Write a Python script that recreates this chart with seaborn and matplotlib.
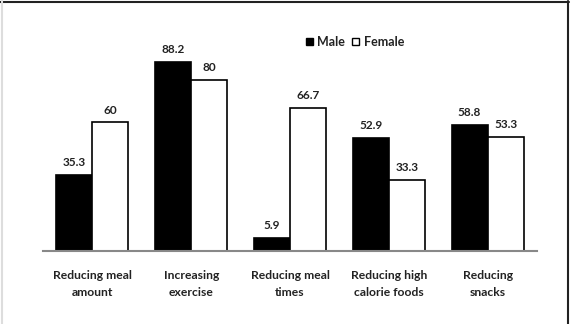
import matplotlib
matplotlib.use("Agg")
import matplotlib.pyplot as plt
import seaborn as sns
import pandas as pd
from matplotlib.patches import Patch
from matplotlib.lines import Line2D

categories = ["Reducing meal\namount", "Increasing\nexercise", "Reducing meal\ntimes",
              "Reducing high\ncalorie foods", "Reducing\nsnacks"]
male = [35.3, 88.2, 5.9, 52.9, 58.8]
female = [60, 80, 66.7, 33.3, 53.3]
male_labels = ["35.3", "88.2", "5.9", "52.9", "58.8"]
female_labels = ["60", "80", "66.7", "33.3", "53.3"]

df = pd.DataFrame({
    "category": categories * 2,
    "value": male + female,
    "sex": ["Male"] * 5 + ["Female"] * 5,
})

sns.set_theme(style="white")
plt.rcParams["font.family"] = ["Lato", "DejaVu Sans"]

fig = plt.figure(figsize=(5.75, 3.24), dpi=100)
ax = fig.add_axes([0.0748, 0.2262, 0.8592, 0.6598])

sns.barplot(data=df, x="category", y="value", hue="sex", order=categories,
            hue_order=["Male", "Female"], palette={"Male": "black", "Female": "white"},
            width=0.73, gap=0, edgecolor="black", linewidth=1.2, ax=ax, legend=False,
            errorbar=None)

for cont, labs in zip(ax.containers, [male_labels, female_labels]):
    ax.bar_label(cont, labels=labs, padding=5, fontsize=8.5, fontweight="bold", color="#222222")

ax.set_xlim(-0.5, 4.5)
ax.set_ylim(0, 100)
ax.set_xlabel("")
ax.set_ylabel("")
ax.set_yticks([])
for s in ["top", "right", "left"]:
    ax.spines[s].set_visible(False)
ax.spines["bottom"].set_color("#888888")
ax.spines["bottom"].set_linewidth(1.5)
ax.tick_params(axis="x", length=0, pad=14)
for t in ax.get_xticklabels():
    t.set_fontsize(8.7)
    t.set_fontweight("bold")
    t.set_color("#222222")
    t.set_linespacing(1.6)

handles = [Patch(facecolor="black", edgecolor="black", label="Male"),
           Patch(facecolor="white", edgecolor="black", label="Female")]
fig.legend(handles=handles, loc="center", bbox_to_anchor=(0.617, 0.870), ncol=2,
           frameon=False, handlelength=0.55, handleheight=0.55, handletextpad=0.35,
           columnspacing=0.6, prop={"size": 9, "weight": "bold"}, labelcolor="#222222")

# outer frame
fig.add_artist(Line2D([0, 569 / 575], [1 - 1.5 / 324] * 2, transform=fig.transFigure,
                      color="#222222", linewidth=1.5))
fig.add_artist(Line2D([568 / 575] * 2, [0, 1 - 1 / 324], transform=fig.transFigure,
                      color="#222222", linewidth=1.5))
fig.add_artist(Line2D([1.5 / 575] * 2, [0, 1 - 1 / 324], transform=fig.transFigure,
                      color="#dddddd", linewidth=1.5))

fig.savefig("out.png", dpi=100)
